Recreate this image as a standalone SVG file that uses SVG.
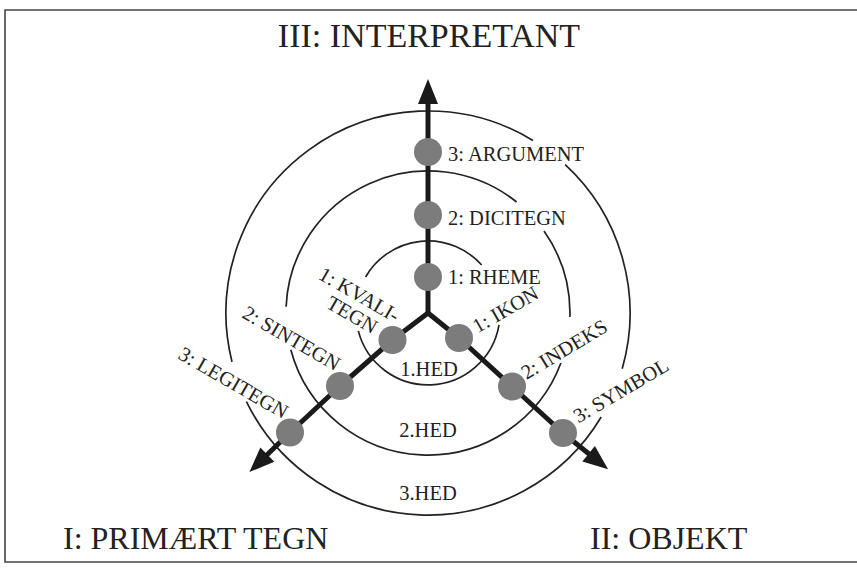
<svg xmlns="http://www.w3.org/2000/svg" width="857" height="568" viewBox="0 0 857 568">
  <style>
    .frame { fill: none; stroke: #444; stroke-width: 1.6; }
    .ring { fill: none; stroke: #222; stroke-width: 1.7; }
    .axis { fill: none; stroke: #1a1a1a; stroke-width: 5; stroke-linejoin: round; }
    .dot { fill: #7c7c7c; }
    .lbl { font-family: "Liberation Serif", "Times New Roman", serif; font-size: 20.5px; fill: #222; }
    .big { font-family: "Liberation Serif", "Times New Roman", serif; fill: #222; }
  </style>
  <defs>
    <marker id="arr" markerUnits="userSpaceOnUse" markerWidth="27" markerHeight="22" refX="1" refY="10" orient="auto" overflow="visible">
      <path d="M0,0 L25,10 L0,20 Z" fill="#1a1a1a"/>
    </marker>
  </defs>
  <rect width="857" height="568" fill="#ffffff"/>

  <!-- frame (top, left, bottom) -->
  <path class="frame" d="M857,10 L5,10 L5,562 L857,562"/>

  <!-- concentric rings with gaps -->
  <g id="rings">
    <path id="ring3" class="ring" d="M565.2,164.7 A202,202 0 0 1 622.2,368.7 M601.2,417.0 A202,202 0 0 1 246.4,401.6 M232.0,361.9 A202,202 0 0 1 532.9,140.4"/>
    <path id="ring2" class="ring" d="M544.0,231.1 A142,142 0 0 1 569.9,317.0 M560.9,363.0 A142,142 0 0 1 290.8,349.8 M286.1,306.8 A142,142 0 0 1 516.6,202.0"/>
    <path id="ring1" class="ring" d="M499.0,324.9 A72,72 0 0 1 358.3,330.9 M365.6,277.0 A72,72 0 0 1 481.7,265.0"/>
  </g>

  <!-- connectors: the three axes -->
  <g id="connectors">
    <path class="axis" d="M428,313 L428,103" marker-end="url(#arr)"/>
    <path class="axis" d="M428,313 L392.5,340 L340,386 L290,432.5 L266.6,455.3" marker-end="url(#arr)"/>
    <path class="axis" d="M428,313 L459,338 L512,386.5 L563,433 L589.4,454.3" marker-end="url(#arr)"/>
  </g>

  <!-- axis titles -->
  <g id="interpretant">
    <text class="big" x="429" y="47" font-size="34" text-anchor="middle">III: INTERPRETANT</text>
  </g>
  <g id="primaert-tegn">
    <text class="big" x="63" y="549" font-size="32">I: PRIMÆRT TEGN</text>
  </g>
  <g id="objekt">
    <text class="big" x="590" y="549" font-size="32">II: OBJEKT</text>
  </g>

  <!-- interpretant nodes -->
  <g id="argument">
    <circle class="dot" cx="428" cy="152" r="14"/>
    <text class="lbl" x="448" y="160.5">3: ARGUMENT</text>
  </g>
  <g id="dicitegn">
    <circle class="dot" cx="428" cy="215" r="14"/>
    <text class="lbl" x="448" y="225">2: DICITEGN</text>
  </g>
  <g id="rheme">
    <circle class="dot" cx="428" cy="277" r="14"/>
    <text class="lbl" x="448" y="283.5">1: RHEME</text>
  </g>

  <!-- primary sign nodes -->
  <g id="kvalitegn">
    <circle class="dot" cx="392.5" cy="340" r="14"/>
    <g transform="translate(325,307) rotate(30)">
      <text class="lbl" x="-21" y="-21">1: KVALI-</text>
      <text class="lbl" x="0" y="0">TEGN</text>
    </g>
  </g>
  <g id="sintegn">
    <circle class="dot" cx="340" cy="386" r="14"/>
    <text class="lbl" transform="translate(241,317) rotate(30)">2: SINTEGN</text>
  </g>
  <g id="legitegn">
    <circle class="dot" cx="290" cy="432.5" r="14"/>
    <text class="lbl" transform="translate(177,358) rotate(30)">3: LEGITEGN</text>
  </g>

  <!-- object nodes -->
  <g id="ikon">
    <circle class="dot" cx="459" cy="338" r="14"/>
    <text class="lbl" transform="translate(477.5,333.5) rotate(-30)">1: IKON</text>
  </g>
  <g id="indeks">
    <circle class="dot" cx="512" cy="386.5" r="14"/>
    <text class="lbl" transform="translate(526.5,380) rotate(-31)">2: INDEKS</text>
  </g>
  <g id="symbol">
    <circle class="dot" cx="563" cy="433" r="14"/>
    <text class="lbl" transform="translate(578.5,423.5) rotate(-30.5)">3: SYMBOL</text>
  </g>

  <!-- ring labels -->
  <g id="hed1"><text class="lbl" x="429" y="376" text-anchor="middle">1.HED</text></g>
  <g id="hed2"><text class="lbl" x="428" y="437" text-anchor="middle">2.HED</text></g>
  <g id="hed3"><text class="lbl" x="428" y="500" text-anchor="middle">3.HED</text></g>
</svg>
